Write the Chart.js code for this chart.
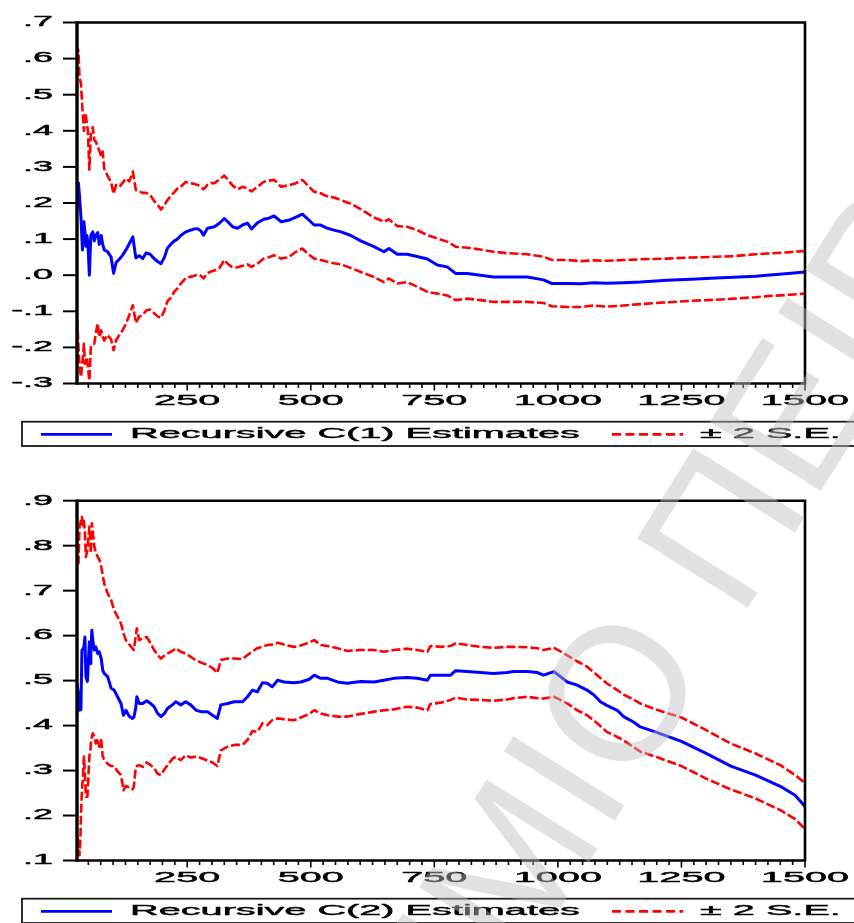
<!DOCTYPE html>
<html>
<head>
<meta charset="utf-8">
<title>Recursive coefficient estimates</title>
<script src="https://cdn.jsdelivr.net/npm/chart.js@4.4.0/dist/chart.umd.min.js"></script>
<style>
  html, body { margin: 0; padding: 0; background: #fff; }
  body { width: 854px; height: 923px; overflow: hidden; position: relative; }
  canvas { position: absolute; left: 0; }
  #c1 { top: 0; }
  #c2 { top: 460px; }
  #wm { position: absolute; left: 0; top: 0; pointer-events: none; }
</style>
</head>
<body>
<canvas id="c1" width="854" height="460"></canvas>
<canvas id="c2" width="854" height="463"></canvas>
<svg id="wm" width="854" height="923" xmlns="http://www.w3.org/2000/svg">
  <text id="wmText" font-family="Liberation Sans, Arial, sans-serif" font-size="190"
        fill="rgb(190,190,190)" fill-opacity="0.46">ΠΑΝΕΠΙΣΤΗΜΙΟ ΠΕΙΡΑΙΩΣ</text>
</svg>
<script>
// ---- observation axis ----
const X_MIN = 27;
const X_MAX = 1500;
const X_MINOR_START = 50;
const X_MINOR_STEP = 25;
const xTickValues = [250, 500, 750, 1000, 1250, 1500];

// ---- C(1): recursive estimates and +/- 2 S.E. bands ----
const obs1 = [27, 28, 30, 32, 35, 38, 41, 43, 45, 47,
  49, 52, 55, 59, 62, 65, 69, 72, 76, 79,
  82, 89, 96, 101, 106, 113, 119, 126, 133, 140,
  146, 153, 160, 167, 175, 183, 190, 197, 204, 210,
  217, 224, 230, 237, 247, 257, 264, 271, 278, 283,
  291, 298, 305, 315, 325, 332, 342, 352, 362, 372,
  380, 392, 405, 415, 426, 440, 455, 470, 483, 493,
  507, 520, 534, 547, 561, 581, 601, 628, 648, 658,
  675, 695, 715, 736, 756, 776, 793, 817, 843, 870,
  897, 938, 971, 988, 1019, 1046, 1073, 1099, 1133, 1167,
  1221, 1270, 1320, 1356, 1400, 1423, 1460, 1500];
const c1Est = [0.19, 0.25, 0.255, 0.22, 0.16, 0.07, 0.148, 0.12, 0.08, 0.11,
  0.09, 0.0, 0.11, 0.12, 0.095, 0.11, 0.118, 0.085, 0.11, 0.085,
  0.07, 0.065, 0.05, 0.005, 0.035, 0.045, 0.055, 0.07, 0.088, 0.106,
  0.048, 0.054, 0.046, 0.062, 0.058, 0.046, 0.038, 0.032, 0.05, 0.075,
  0.086, 0.095, 0.10, 0.11, 0.12, 0.125, 0.128, 0.129, 0.122, 0.111,
  0.13, 0.132, 0.134, 0.144, 0.157, 0.148, 0.134, 0.13, 0.139, 0.144,
  0.128, 0.145, 0.155, 0.158, 0.164, 0.148, 0.152, 0.161, 0.169, 0.157,
  0.139, 0.139, 0.13, 0.125, 0.12, 0.11, 0.095, 0.079, 0.065, 0.074,
  0.058, 0.058, 0.052, 0.045, 0.028, 0.023, 0.005, 0.005, 0.0, -0.005,
  -0.005, -0.005, -0.013, -0.023, -0.023, -0.024, -0.021, -0.022, -0.021, -0.019,
  -0.014, -0.011, -0.008, -0.006, -0.003, 0.0, 0.004, 0.009];
const c1Upper = [0.55, 0.63, 0.62, 0.55, 0.53, 0.46, 0.40, 0.45, 0.44, 0.42,
  0.40, 0.292, 0.39, 0.41, 0.375, 0.37, 0.356, 0.345, 0.33, 0.343,
  0.295, 0.275, 0.258, 0.225, 0.25, 0.245, 0.255, 0.268, 0.26, 0.287,
  0.236, 0.232, 0.228, 0.228, 0.222, 0.206, 0.195, 0.182, 0.195, 0.208,
  0.22, 0.23, 0.24, 0.245, 0.258, 0.255, 0.253, 0.25, 0.245, 0.238,
  0.25, 0.255, 0.255, 0.265, 0.276, 0.265, 0.248, 0.238, 0.245, 0.24,
  0.232, 0.245, 0.259, 0.262, 0.264, 0.245, 0.249, 0.255, 0.264, 0.25,
  0.231, 0.227, 0.218, 0.215, 0.208, 0.198, 0.183, 0.160, 0.148, 0.155,
  0.136, 0.134, 0.125, 0.111, 0.102, 0.093, 0.079, 0.076, 0.071, 0.065,
  0.061, 0.058, 0.051, 0.042, 0.042, 0.039, 0.041, 0.040, 0.042, 0.044,
  0.046, 0.049, 0.051, 0.053, 0.058, 0.060, 0.063, 0.067];
const c1Lower = [-0.12, -0.14, -0.20, -0.25, -0.282, -0.24, -0.19, -0.245, -0.235, -0.227,
  -0.255, -0.292, -0.2, -0.19, -0.19, -0.16, -0.134, -0.171, -0.153, -0.17,
  -0.181, -0.165, -0.178, -0.208, -0.18, -0.165, -0.153, -0.135, -0.11, -0.083,
  -0.132, -0.115, -0.11, -0.098, -0.095, -0.105, -0.114, -0.118, -0.097, -0.072,
  -0.062, -0.045, -0.037, -0.023, -0.008, -0.004, -0.002, 0.002, -0.002, -0.009,
  0.006, 0.01, 0.013, 0.02, 0.042, 0.032, 0.021, 0.022, 0.026, 0.03,
  0.023, 0.032, 0.046, 0.05, 0.055, 0.046, 0.05, 0.065, 0.074, 0.06,
  0.046, 0.042, 0.037, 0.033, 0.03, 0.02, 0.009, -0.005, -0.019, -0.009,
  -0.023, -0.019, -0.032, -0.046, -0.051, -0.056, -0.069, -0.065, -0.069, -0.074,
  -0.074, -0.074, -0.077, -0.086, -0.088, -0.088, -0.084, -0.087, -0.084, -0.080,
  -0.075, -0.071, -0.068, -0.065, -0.061, -0.058, -0.055, -0.051];
const c1TickValues = [0.7, 0.6, 0.5, 0.4, 0.3, 0.2, 0.1, 0.0, -0.1, -0.2, -0.3];
const c1TickLabels = ['.7', '.6', '.5', '.4', '.3', '.2', '.1', '.0', '-.1', '-.2', '-.3'];

// ---- C(2): recursive estimates and +/- 2 S.E. bands ----
const obs2 = [27, 30, 32, 34, 35, 37, 39, 41, 43, 45,
  48, 52, 54, 55, 57, 59, 62, 65, 69, 72,
  76, 79, 82, 89, 96, 102, 109, 116, 121, 126,
  133, 139, 142, 146, 148, 153, 160, 168, 176, 183,
  190, 197, 204, 210, 220, 227, 237, 247, 257, 268,
  278, 291, 301, 311, 318, 332, 345, 362, 372, 382,
  392, 402, 412, 422, 433, 446, 466, 480, 497, 507,
  520, 534, 554, 574, 601, 628, 648, 668, 695, 715,
  736, 742, 763, 783, 793, 817, 843, 870, 897, 911,
  938, 958, 971, 992, 1005, 1019, 1039, 1059, 1073, 1086,
  1099, 1120, 1133, 1153, 1167, 1200, 1250, 1300, 1350, 1400,
  1450, 1480, 1500];
const c2Est = [0.494, 0.47, 0.434, 0.436, 0.44, 0.568, 0.57, 0.575, 0.597, 0.509,
  0.498, 0.586, 0.538, 0.56, 0.612, 0.59, 0.568, 0.575, 0.56, 0.564,
  0.549, 0.523, 0.516, 0.509, 0.483, 0.479, 0.464, 0.449, 0.423, 0.434,
  0.420, 0.416, 0.418, 0.440, 0.464, 0.449, 0.449, 0.455, 0.449, 0.442,
  0.427, 0.420, 0.427, 0.438, 0.446, 0.453, 0.446, 0.453, 0.446, 0.434,
  0.431, 0.431, 0.423, 0.416, 0.446, 0.449, 0.453, 0.453, 0.464, 0.479,
  0.475, 0.495, 0.494, 0.486, 0.501, 0.497, 0.495, 0.497, 0.503, 0.512,
  0.505, 0.505, 0.497, 0.494, 0.498, 0.497, 0.501, 0.505, 0.507, 0.505,
  0.501, 0.512, 0.512, 0.512, 0.522, 0.520, 0.518, 0.516, 0.518, 0.520,
  0.520, 0.518, 0.512, 0.520, 0.509, 0.497, 0.490, 0.479, 0.468, 0.453,
  0.445, 0.434, 0.420, 0.408, 0.397, 0.385, 0.365, 0.338, 0.31, 0.29,
  0.265, 0.245, 0.22];
const c2Upper = [0.76, 0.761, 0.842, 0.85, 0.857, 0.864, 0.845, 0.855, 0.83, 0.775,
  0.79, 0.842, 0.81, 0.783, 0.85, 0.83, 0.798, 0.785, 0.775, 0.77,
  0.753, 0.735, 0.716, 0.694, 0.679, 0.657, 0.642, 0.627, 0.605, 0.59,
  0.58, 0.572, 0.568, 0.60, 0.616, 0.59, 0.594, 0.597, 0.583, 0.568,
  0.557, 0.549, 0.556, 0.56, 0.566, 0.572, 0.564, 0.560, 0.553, 0.545,
  0.540, 0.535, 0.528, 0.517, 0.546, 0.549, 0.549, 0.548, 0.557, 0.565,
  0.572, 0.575, 0.579, 0.58, 0.584, 0.58, 0.575, 0.578, 0.585, 0.590,
  0.579, 0.577, 0.572, 0.566, 0.568, 0.568, 0.564, 0.568, 0.571, 0.568,
  0.564, 0.577, 0.575, 0.577, 0.583, 0.579, 0.575, 0.573, 0.575, 0.575,
  0.574, 0.572, 0.568, 0.573, 0.565, 0.556, 0.543, 0.531, 0.518, 0.506,
  0.494, 0.479, 0.469, 0.458, 0.449, 0.435, 0.418, 0.39, 0.36, 0.338,
  0.312, 0.29, 0.272];
const c2Lower = [0.15, 0.145, 0.112, 0.153, 0.20, 0.256, 0.286, 0.331, 0.29, 0.242,
  0.242, 0.331, 0.345, 0.36, 0.375, 0.383, 0.375, 0.36, 0.371, 0.353,
  0.368, 0.331, 0.325, 0.315, 0.31, 0.31, 0.298, 0.29, 0.256, 0.266,
  0.262, 0.258, 0.264, 0.308, 0.31, 0.312, 0.308, 0.318, 0.312, 0.305,
  0.293, 0.290, 0.303, 0.312, 0.326, 0.331, 0.323, 0.334, 0.329, 0.331,
  0.328, 0.322, 0.318, 0.310, 0.345, 0.353, 0.357, 0.357, 0.368, 0.388,
  0.386, 0.405, 0.401, 0.412, 0.416, 0.414, 0.412, 0.418, 0.426, 0.434,
  0.427, 0.423, 0.420, 0.420, 0.426, 0.431, 0.434, 0.436, 0.442, 0.440,
  0.434, 0.448, 0.451, 0.457, 0.462, 0.458, 0.457, 0.455, 0.458, 0.461,
  0.464, 0.461, 0.460, 0.464, 0.457, 0.449, 0.434, 0.423, 0.411, 0.399,
  0.386, 0.375, 0.367, 0.352, 0.342, 0.33, 0.31, 0.282, 0.258, 0.238,
  0.212, 0.192, 0.17];
const c2TickValues = [0.9, 0.8, 0.7, 0.6, 0.5, 0.4, 0.3, 0.2, 0.1];
const c2TickLabels = ['.9', '.8', '.7', '.6', '.5', '.4', '.3', '.2', '.1'];

// ---- drawing helpers ----
const FONT = '"Liberation Sans", Arial, Helvetica, sans-serif';
const STRETCH = 2.56;   // wide, horizontally stretched lettering

function wideText(ctx, str, x, y, align, size) {
  ctx.save();
  ctx.translate(x, y);
  ctx.scale(STRETCH, 1);
  ctx.font = size + 'px ' + FONT;
  ctx.textAlign = align;
  ctx.textBaseline = 'middle';
  ctx.fillStyle = '#000';
  ctx.strokeStyle = '#000';
  ctx.lineWidth = 0.45;
  ctx.lineJoin = 'round';
  ctx.fillText(str, 0, 0);
  ctx.strokeText(str, 0, 0);
  ctx.restore();
}

function seg(ctx, x1, y1, x2, y2) {
  ctx.beginPath();
  ctx.moveTo(x1, y1);
  ctx.lineTo(x2, y2);
  ctx.stroke();
}

// Boxed frame, outside tick marks, stretched labels and a boxed legend row
const eviewsFrame = {
  id: 'eviewsFrame',
  afterDatasetsDraw(chart, _args, o) {
    const { ctx, chartArea: a } = chart;
    const xs = chart.scales.x, ys = chart.scales.y;
    ctx.save();
    ctx.strokeStyle = '#000';
    ctx.lineCap = 'butt';

    // plot frame
    ctx.lineWidth = 2.6;
    ctx.beginPath();
    ctx.moveTo(a.left, a.top);
    ctx.lineTo(a.right, a.top);
    ctx.lineTo(a.right, a.bottom);
    ctx.lineTo(a.left, a.bottom);
    ctx.stroke();
    ctx.lineWidth = 3.4;
    seg(ctx, a.left, a.top - 1.3, a.left, a.bottom + 1.3);

    // value axis
    ctx.lineWidth = 2;
    o.yTicks.forEach((v, i) => {
      const py = ys.getPixelForValue(v);
      seg(ctx, a.left - 14, py, a.left, py);
      wideText(ctx, o.yLabels[i], a.left - 24, py, 'right', 14);
    });

    // observation axis
    ctx.lineWidth = 1.6;
    for (let v = X_MINOR_START; v <= X_MAX; v += X_MINOR_STEP) {
      const px = xs.getPixelForValue(v);
      const major = xTickValues.includes(v);
      seg(ctx, px, a.bottom, px, a.bottom + (major ? 7 : 4.5));
    }
    xTickValues.forEach(v => {
      wideText(ctx, String(v), xs.getPixelForValue(v), a.bottom + 17.3, 'center', 15.5);
    });

    // legend row
    const ds = chart.data.datasets;
    const ly = a.bottom + 38.2, lh = 24.3, cy = ly + lh / 2;
    ctx.strokeStyle = '#1a1a1a';
    ctx.lineWidth = 1.8;
    ctx.strokeRect(22, ly, 900, lh);
    ctx.strokeStyle = ds[0].borderColor;
    ctx.lineWidth = 2.8;
    seg(ctx, 41, cy + 0.5, 112, cy + 0.5);
    wideText(ctx, ds[0].label, 130, cy, 'left', 15.5);
    ctx.strokeStyle = ds[1].borderColor;
    ctx.lineWidth = 2.6;
    ctx.setLineDash([9, 4.5]);
    seg(ctx, 612, cy + 0.5, 683, cy + 0.5);
    ctx.setLineDash([]);
    wideText(ctx, ds[1].label, 700, cy, 'left', 15.5);

    ctx.restore();
  }
};

function points(obs, vals) {
  return obs.map((x, i) => ({ x: x, y: vals[i] }));
}

function makePanel(id, estLabel, obs, est, up, lo, yMin, yMax, yTicks, yLabels, padTop, padBottom) {
  const band = { borderColor: '#ff0000', borderWidth: 2.6, borderDash: [9, 3] };
  return new Chart(document.getElementById(id), {
    type: 'line',
    data: {
      datasets: [
        { label: estLabel, data: points(obs, est), borderColor: '#0000ff', borderWidth: 3 },
        Object.assign({ label: '± 2 S.E.', data: points(obs, up) }, band),
        Object.assign({ label: '± 2 S.E.', data: points(obs, lo) }, band)
      ]
    },
    options: {
      responsive: false,
      animation: false,
      devicePixelRatio: 1,
      events: [],
      layout: { padding: { left: 77, right: 49, top: padTop, bottom: padBottom } },
      elements: {
        point: { radius: 0 },
        line: { tension: 0, fill: false, borderJoinStyle: 'round' }
      },
      scales: {
        x: { type: 'linear', min: X_MIN, max: X_MAX, display: false },
        y: { type: 'linear', min: yMin, max: yMax, display: false }
      },
      plugins: {
        legend: { display: false },
        tooltip: { enabled: false },
        eviewsFrame: { yTicks: yTicks, yLabels: yLabels }
      }
    },
    plugins: [eviewsFrame]
  });
}

makePanel('c1', 'Recursive C(1) Estimates', obs1, c1Est, c1Upper, c1Lower,
  -0.3, 0.7, c1TickValues, c1TickLabels, 22.5, 76.5);
makePanel('c2', 'Recursive C(2) Estimates', obs2, c2Est, c2Upper, c2Lower,
  0.1, 0.9, c2TickValues, c2TickLabels, 40.7, 62.5);

// diagonal watermark across the page
(function placeWatermark() {
  const t = document.getElementById('wmText');
  const size = 190;
  const lead = t.getSubStringLength(0, 11) + t.getSubStringLength(11, 1) / 2;
  t.setAttribute('x', (-lead).toFixed(1));
  t.setAttribute('y', (0.358 * size).toFixed(1));
  t.setAttribute('transform', 'translate(615,692) rotate(-58)');
})();
</script>
</body>
</html>
